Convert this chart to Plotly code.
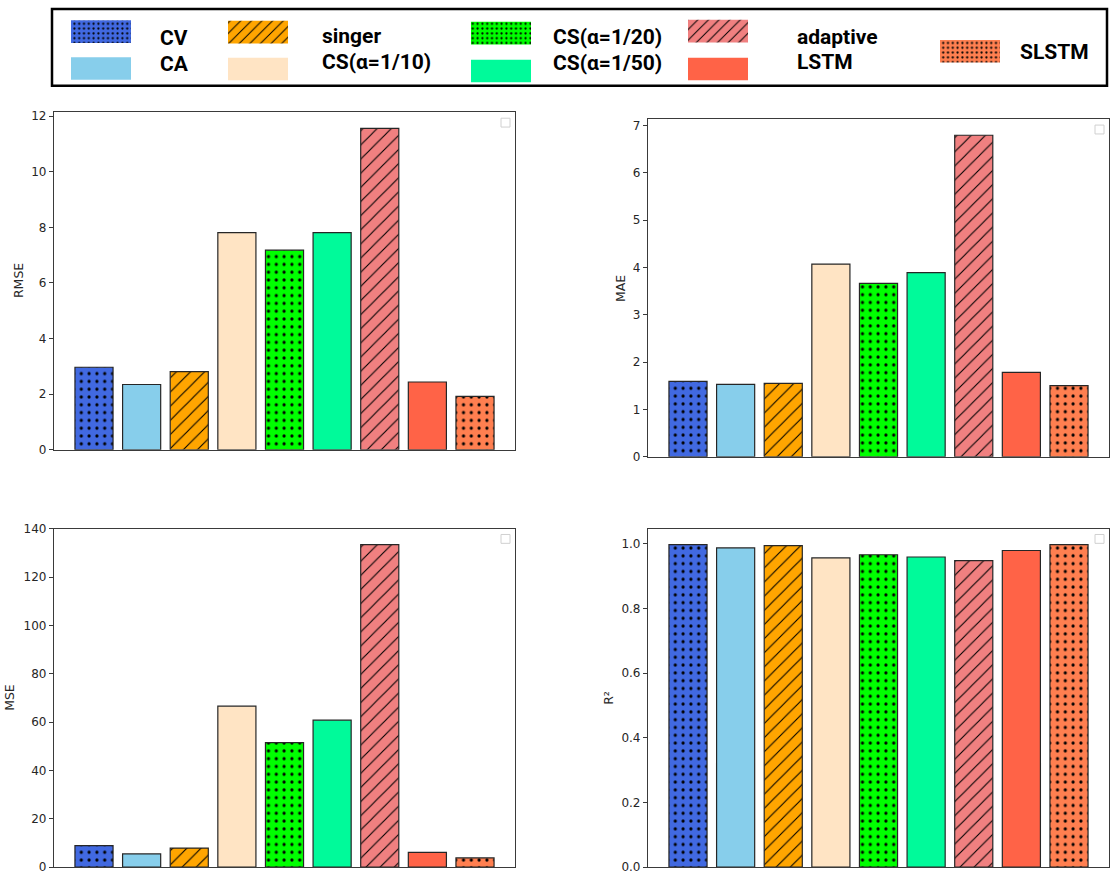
import plotly.graph_objects as go

# ---------------- data ----------------
categories = ["CV", "CA", "singer", "CS(α=1/10)", "CS(α=1/20)", "CS(α=1/50)", "adaptive", "LSTM", "SLSTM"]
colors = ["#4169E1", "#87CEEB", "#FFA500", "#FFE4C4", "#00FF00", "#00FA9A", "#F08080", "#FF6347", "#FF7F50"]
hatches = [".", "", "/", "", ".", "", "/", "", "."]

rmse = [2.97, 2.35, 2.81, 7.81, 7.18, 7.81, 11.56, 2.44, 1.92]
mae = [1.59, 1.53, 1.55, 4.07, 3.66, 3.89, 6.79, 1.78, 1.50]
mse = [8.85, 5.44, 7.88, 66.6, 51.5, 60.8, 133.4, 6.1, 3.8]
r2 = [0.997, 0.987, 0.994, 0.956, 0.966, 0.959, 0.948, 0.979, 0.997]

metric_names = ["RMSE", "MAE", "MSE", "R²"]
metric_values = [rmse, mae, mse, r2]
metric_dticks = [2, 1, 20, 0.2]
metric_formats = ["d", "d", "d", ".1f"]

# legend grouping: columns of category indices
legend_columns = [[0, 1], [2, 3], [4, 5], [6, 7], [8]]

# ---------------- layout constants (pixels) ----------------
W, H = 1114, 881
panels_px = [  # x0, x1, ytop, ybottom
    (54, 515, 107, 450),
    (648, 1109, 114, 457),
    (54, 515, 530, 874),
    (648, 1109, 530, 874),
]
ylabel_x_px = [18, 621, 10, 609]

TICK_FONT = dict(family="DejaVu Sans", size=12, color="#262626")
SPINE = "#3a3a3a"


def px_x(x):
    return x / W


def px_y(y):
    return 1 - y / H


def pattern_for(shape, bg, dot_size, slash_size, dot_sol, slash_sol):
    if not shape:
        return dict(shape="")
    return dict(
        shape=shape,
        size=dot_size if shape == "." else slash_size,
        solidity=dot_sol if shape == "." else slash_sol,
        fgcolor="#000000", bgcolor=bg, fgopacity=1, fillmode="replace",
    )


fig = go.Figure()
layout_axes = {}
annotations = []
shapes = []
for i, (name, vals) in enumerate(zip(metric_names, metric_values)):
    n = i + 1
    xa = "x" if n == 1 else f"x{n}"
    ya = "y" if n == 1 else f"y{n}"
    for k, cat in enumerate(categories):
        fig.add_trace(go.Bar(
            x=[k], y=[vals[k]], width=0.8, name=cat,
            xaxis=xa, yaxis=ya,
            marker=dict(
                color=colors[k],
                line=dict(color="#262626", width=1.2),
                pattern=pattern_for(hatches[k], colors[k], 7.8, 10, 0.13, 0.11),
            ),
            showlegend=False,
        ))
    x0, x1, yt, yb = panels_px[i]
    ymax = max(vals) * 1.05
    layout_axes[f"xaxis{'' if n == 1 else n}"] = dict(
        domain=[px_x(x0), px_x(x1)], anchor=ya, range=[-0.84, len(categories) - 1 + 0.84],
        showticklabels=False, ticks="", showgrid=False, zeroline=False,
        showline=True, mirror=True, linecolor=SPINE, linewidth=1.2,
    )
    layout_axes[f"yaxis{'' if n == 1 else n}"] = dict(
        domain=[px_y(yb), px_y(yt)], anchor=xa, range=[0, ymax],
        dtick=metric_dticks[i], tick0=0, tickformat=metric_formats[i],
        ticks="outside", ticklen=4, tickwidth=1, tickcolor=SPINE,
        tickfont=TICK_FONT, showgrid=False, zeroline=False,
        showline=True, mirror=True, linecolor=SPINE, linewidth=1.2,
    )
    annotations.append(dict(
        text=name, xref="paper", yref="paper",
        x=px_x(ylabel_x_px[i]), y=px_y((yt + yb) / 2),
        xanchor="center", yanchor="middle", textangle=-90, showarrow=False,
        font=dict(family="DejaVu Sans", size=12.5, color="#262626"),
    ))
    # empty matplotlib legend frame in the top-right corner
    shapes.append(dict(
        type="rect", xref=f"{xa} domain", yref=f"{ya} domain",
        x0=1 - 14 / (x1 - x0), x1=1 - 5 / (x1 - x0),
        y0=1 - 15 / (yb - yt), y1=1 - 6 / (yb - yt),
        line=dict(color="#d0d0d0", width=1), fillcolor="rgba(0,0,0,0)",
    ))

# ---------------- custom legend ----------------
col_patch_x = [71, 228, 471, 688, 940]
col_text_x = [158, 320, 551, 795, 1018]
row_patch_top = [[13.5, 51], [14, 51.5], [15, 53.5], [13, 51.5], [33.5]]
row_text_y = [[31, 57.5], [29.5, 55.5], [30.5, 57], [30, 55.5], [45.5]]
PATCH_W, PATCH_H = 60, 23

for c, idxs in enumerate(legend_columns):
    for r, k in enumerate(idxs):
        fig.add_trace(go.Bar(
            x=[col_patch_x[c] + PATCH_W / 2], y=[PATCH_H], base=[row_patch_top[c][r]],
            width=[PATCH_W], xaxis="x5", yaxis="y5",
            marker=dict(color=colors[k], line=dict(width=0),
                        pattern=pattern_for(hatches[k], colors[k], 4.8, 7.5, 0.17, 0.13)),
            showlegend=False, hoverinfo="skip",
        ))
        annotations.append(dict(
            text=categories[k], xref="paper", yref="paper",
            x=px_x(col_text_x[c]), y=px_y(row_text_y[c][r]),
            xanchor="left", yanchor="middle", showarrow=False,
            font=dict(family="Roboto", size=21, color="black", weight="bold"),
        ))

layout_axes["xaxis5"] = dict(domain=[0, 1], anchor="y5", range=[0, W], visible=False)
layout_axes["yaxis5"] = dict(domain=[px_y(85), 1], anchor="x5", range=[85, 0], visible=False)

shapes.append(dict(
    type="rect", xref="paper", yref="paper",
    x0=px_x(52), x1=px_x(1107), y0=px_y(80), y1=px_y(2),
    line=dict(color="black", width=2.5), fillcolor="rgba(0,0,0,0)",
))

fig.update_layout(
    width=W, height=H, margin=dict(l=0, r=0, t=0, b=0),
    paper_bgcolor="white", plot_bgcolor="white",
    barmode="overlay", showlegend=False,
    annotations=annotations, shapes=shapes,
    **layout_axes,
)

fig.write_html(
    "out.html",
    post_script="document.body.style.margin='0';document.body.style.padding='0';",
)
